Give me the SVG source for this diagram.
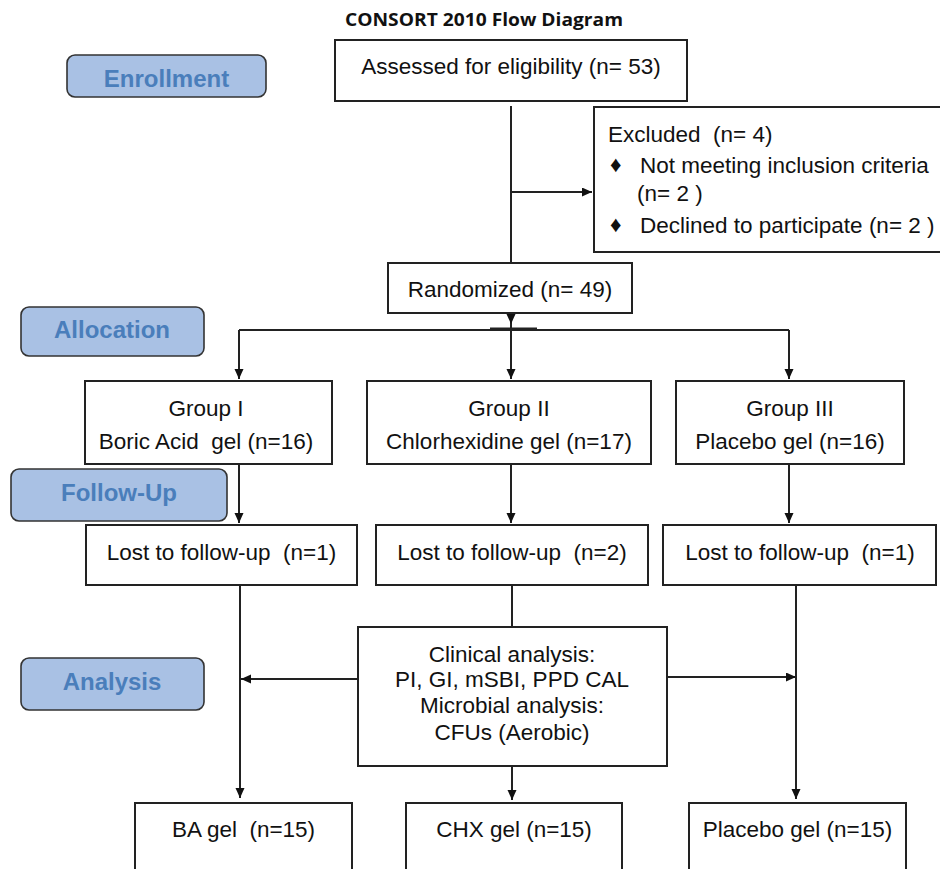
<svg xmlns="http://www.w3.org/2000/svg" width="940" height="869" viewBox="0 0 940 869">
<style>
.box{fill:#fff;stroke:#222;stroke-width:2}
.stage{fill:#a9c1e4;stroke:#333;stroke-width:1.6}
.t{font-family:"Liberation Sans",Arial,sans-serif;font-size:22.5px;fill:#111}
.c{text-anchor:middle}
.st{font-family:"Liberation Sans",Arial,sans-serif;font-size:24px;font-weight:bold;fill:#4a7ebb;text-anchor:middle}
.title{font-family:"Open Sans","Liberation Sans",sans-serif;font-size:17.5px;font-weight:bold;fill:#111;text-anchor:middle}
.ln{fill:none;stroke:#222;stroke-width:2}
</style>
<defs>
<marker id="ah" markerUnits="userSpaceOnUse" markerWidth="11" markerHeight="10" refX="10" refY="4.5" orient="auto">
<path d="M0,0 L10,4.5 L0,9 z" fill="#111"/>
</marker>
</defs>
<rect width="940" height="869" fill="#fff"/>
<text class="title" x="484" y="26" textLength="278" lengthAdjust="spacingAndGlyphs">CONSORT 2010 Flow Diagram</text>

<g id="connectors">
<path class="ln" d="M511,106 V263"/>
<path class="ln" d="M511,192 H592" marker-end="url(#ah)"/>
<path class="ln" d="M511,313 V324" marker-end="url(#ah)"/>
<path class="ln" d="M490,328.5 H537"/>
<path class="ln" d="M239,330 H789"/>
<path class="ln" d="M239,330 V379" marker-end="url(#ah)"/>
<path class="ln" d="M511,324 V379" marker-end="url(#ah)"/>
<path class="ln" d="M789,330 V379" marker-end="url(#ah)"/>
<path class="ln" d="M239,464 V523" marker-end="url(#ah)"/>
<path class="ln" d="M511,464 V523" marker-end="url(#ah)"/>
<path class="ln" d="M789,464 V523" marker-end="url(#ah)"/>
<path class="ln" d="M240,585 V798" marker-end="url(#ah)"/>
<path class="ln" d="M358,679 H241" marker-end="url(#ah)"/>
<path class="ln" d="M667,677 H796" marker-end="url(#ah)"/>
<path class="ln" d="M796,585 V799" marker-end="url(#ah)"/>
<path class="ln" d="M512,585 V627"/>
<path class="ln" d="M512,766 V800" marker-end="url(#ah)"/>
</g>

<g id="enrollment"><rect class="stage" x="67" y="55" width="199" height="42" rx="8"/><text class="st" x="166.5" y="87">Enrollment</text></g>
<g id="allocation"><rect class="stage" x="21" y="307" width="183" height="49" rx="8"/><text class="st" x="112" y="338">Allocation</text></g>
<g id="followup"><rect class="stage" x="11" y="469" width="216" height="52" rx="8"/><text class="st" x="119" y="501">Follow-Up</text></g>
<g id="analysis"><rect class="stage" x="21" y="658" width="183" height="52" rx="8"/><text class="st" x="112" y="690">Analysis</text></g>

<g id="assessed"><rect class="box" x="335" y="40" width="352" height="61"/><text class="t c" x="511" y="74">Assessed for eligibility (n= 53)</text></g>
<g id="excluded"><rect class="box" x="594" y="107" width="352" height="145"/>
<text class="t" x="608" y="142" xml:space="preserve">Excluded  (n= 4)</text>
<text class="t" x="610" y="172" font-size="16">♦</text>
<text class="t" x="640" y="173">Not meeting inclusion criteria</text>
<text class="t" x="637" y="201">(n= 2 )</text>
<text class="t" x="610" y="232" font-size="16">♦</text>
<text class="t" x="640" y="233">Declined to participate (n= 2 )</text>
</g>
<g id="randomized"><rect class="box" x="388" y="263" width="244" height="50"/><text class="t c" x="510" y="297">Randomized (n= 49)</text></g>

<g id="group1"><rect class="box" x="85" y="381" width="247" height="83"/><text class="t c" x="206" y="416">Group I</text><text class="t c" x="206" y="449" xml:space="preserve">Boric Acid  gel (n=16)</text></g>
<g id="group2"><rect class="box" x="367" y="381" width="284" height="83"/><text class="t c" x="509" y="416">Group II</text><text class="t c" x="509" y="449">Chlorhexidine gel (n=17)</text></g>
<g id="group3"><rect class="box" x="676" y="381" width="228" height="83"/><text class="t c" x="790" y="416">Group III</text><text class="t c" x="790" y="449">Placebo gel (n=16)</text></g>

<g id="lost1"><rect class="box" x="86" y="525" width="271" height="60"/><text class="t c" x="221.5" y="560" xml:space="preserve">Lost to follow-up  (n=1)</text></g>
<g id="lost2"><rect class="box" x="376" y="525" width="272" height="60"/><text class="t c" x="512" y="560" xml:space="preserve">Lost to follow-up  (n=2)</text></g>
<g id="lost3"><rect class="box" x="663" y="525" width="273" height="60"/><text class="t c" x="800" y="560" xml:space="preserve">Lost to follow-up  (n=1)</text></g>

<g id="clinical"><rect class="box" x="358" y="627" width="309" height="139"/>
<text class="t c" x="512" y="662">Clinical analysis:</text>
<text class="t c" x="512" y="687">PI, GI, mSBI, PPD CAL</text>
<text class="t c" x="512" y="713">Microbial analysis:</text>
<text class="t c" x="512" y="740">CFUs (Aerobic)</text>
</g>

<g id="ba"><rect class="box" x="135" y="803" width="217" height="80"/><text class="t c" x="243.5" y="837" xml:space="preserve">BA gel  (n=15)</text></g>
<g id="chx"><rect class="box" x="406" y="803" width="216" height="80"/><text class="t c" x="514" y="837">CHX gel (n=15)</text></g>
<g id="placebo"><rect class="box" x="689" y="803" width="217" height="80"/><text class="t c" x="797.5" y="837">Placebo gel (n=15)</text></g>
</svg>
